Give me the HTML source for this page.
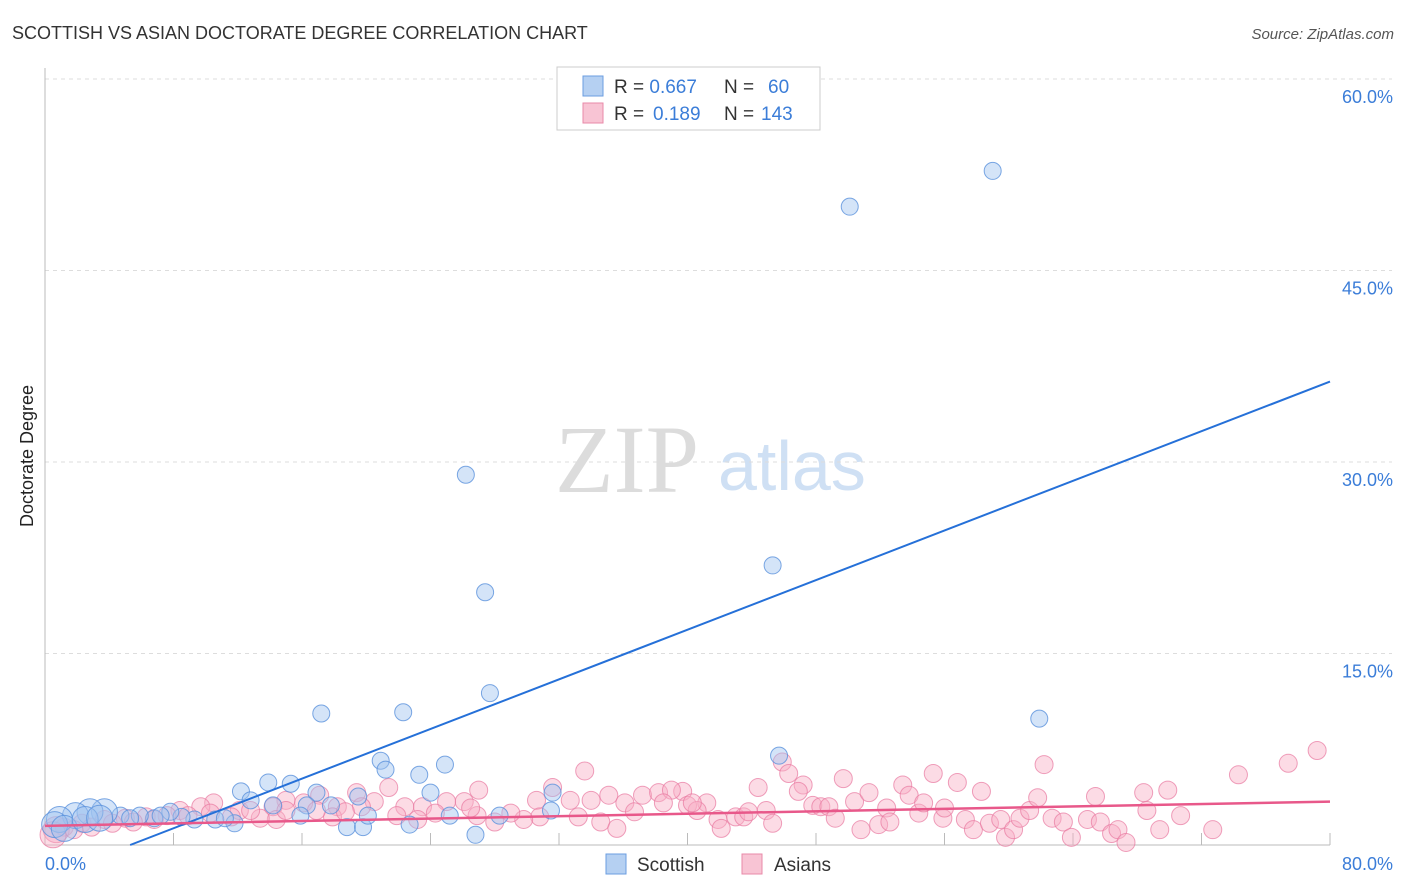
<!DOCTYPE html>
<html><head><meta charset="utf-8"><style>
body{margin:0;background:#fff;font-family:"Liberation Sans",sans-serif;}
#c{position:relative;width:1406px;height:892px;overflow:hidden;}
</style></head><body>
<div id="c">
<svg id="s" width="1406" height="892" xmlns="http://www.w3.org/2000/svg">
<text x="12" y="39" font-size="18" fill="#333">SCOTTISH VS ASIAN DOCTORATE DEGREE CORRELATION CHART</text>
<text x="1394" y="39" font-size="15" fill="#555" font-style="italic" text-anchor="end">Source: ZipAtlas.com</text>
<text x="555" y="492" font-size="96" fill="#dcdcdc" font-family="Liberation Serif,serif">ZIP</text>
<text x="718" y="490" font-size="70" fill="#cfe0f4">atlas</text>
<g id="grid"></g>
<line x1="45" y1="68" x2="45" y2="845" stroke="#bbb"/>
<line x1="45" y1="845" x2="1330" y2="845" stroke="#bbb"/>
<g id="pts"></g>
<g id="lines"></g>
<text transform="translate(33,456) rotate(-90)" font-size="18" fill="#222" text-anchor="middle">Doctorate Degree</text>
<text x="45" y="870" font-size="18" fill="#3b7dd8">0.0%</text>
<text x="1393" y="870" font-size="18" fill="#3b7dd8" text-anchor="end">80.0%</text>
<g>
<rect x="557" y="67" width="263" height="63" fill="#fff" stroke="#ccc"/>
<rect x="583" y="76" width="20" height="20" fill="#b5d0f2" stroke="#6b9ee0"/>
<rect x="583" y="103" width="20" height="20" fill="#f8c4d4" stroke="#e88aa8"/>
<text x="614" y="93" font-size="19" fill="#333">R = <tspan fill="#3b7dd8">0.667</tspan><tspan x="724">N =</tspan><tspan x="768" fill="#3b7dd8">60</tspan></text>
<text x="614" y="120" font-size="19" fill="#333">R = <tspan x="653" fill="#3b7dd8">0.189</tspan><tspan x="724">N =</tspan><tspan x="761" fill="#3b7dd8">143</tspan></text>
</g>
<g><rect x="606" y="854" width="20" height="20" fill="#b5d0f2" stroke="#6b9ee0"/><text x="637" y="871" font-size="19" fill="#333">Scottish</text></g>
<g><rect x="742" y="854" width="20" height="20" fill="#f8c4d4" stroke="#e88aa8"/><text x="774" y="871" font-size="19" fill="#333">Asians</text></g>
</svg>
</div>
<script>
const yTicks=[15,30,45,60];
const yTickLabels=["15.0%","30.0%","45.0%","60.0%"];
const xTicks=[8,16,24,32,40,48,56,64,72,80];
const scottishX=[59.0,50.1,26.2,27.4,45.3,27.7,17.2,22.3,61.9,45.7,20.9,21.2,24.9,23.3,12.2,13.9,15.3,16.9,19.5,24.0,12.8,14.2,16.3,17.8,15.9,18.8,19.8,22.7,26.8,28.3,31.5,31.6,20.1,11.8,10.6,9.3,8.5,7.8,6.8,5.9,4.7,3.7,2.8,1.9,0.9,0.6,1.2,2.5,3.4,5.3,11.2,25.2,7.2];
const scottishY=[52.8,50.0,29.0,19.8,21.9,11.9,10.3,10.4,9.9,7.0,6.6,5.9,6.3,5.5,4.2,4.9,4.8,4.1,3.8,4.1,3.5,3.1,3.1,3.1,2.3,1.4,1.4,1.6,0.8,2.3,2.7,4.1,2.3,1.7,2.0,2.0,2.2,2.6,2.1,2.3,2.3,2.6,2.6,2.3,2.0,1.6,1.3,2.0,2.1,2.1,2.1,2.3,2.3];
const scottishBig=[0,0,0,0,0,0,0,0,0,0,0,0,0,0,0,0,0,0,0,0,0,0,0,0,0,0,0,0,0,0,0,0,0,0,0,0,0,0,0,0,0,1,1,1,1,1,1,1,1,0,0,0,0];
const asianX=[39.7,40.0,41.2,40.6,41.9,42.1,43.0,43.5,43.8,44.4,44.9,45.3,45.9,46.3,47.2,46.9,47.8,48.3,48.8,49.2,49.7,50.4,50.8,51.3,51.9,52.4,52.6,53.4,53.8,54.4,54.7,55.3,55.9,56.0,56.8,57.3,57.8,58.3,58.8,59.5,59.8,60.3,60.7,61.3,61.8,62.2,62.7,63.4,63.9,64.9,65.4,65.7,66.4,66.8,67.3,68.4,68.6,69.4,69.9,70.7,72.7,74.3,77.4,79.2,
33.6,31.6,27.0,21.4,19.4,17.1,35.1,34.0,32.7,30.6,26.1,25.0,23.5,22.4,20.5,18.2,16.1,15.0,14.2,12.1,10.5,9.7,8.4,36.1,37.2,38.2,39.0,40.3,38.5,36.7,34.6,35.6,33.2,30.8,29.8,28.0,29.0,26.9,26.5,24.3,21.9,23.2,19.7,17.9,16.9,14.4,13.4,11.6,8.9,7.6,6.3,5.0,3.7,2.3,1.2,0.7,0.5,1.8,2.9,4.2,5.5,6.8,10.3,12.8,15.0,18.7];
const asianY=[4.2,3.1,3.3,2.7,2.0,1.3,2.2,2.2,2.6,4.5,2.7,1.7,6.5,5.6,4.7,4.2,3.1,3.0,3.0,2.1,5.2,3.4,1.2,4.1,1.6,2.9,1.8,4.7,3.9,2.5,3.3,5.6,2.1,2.9,4.9,2.0,1.2,4.2,1.7,2.0,0.6,1.2,2.1,2.7,3.7,6.3,2.1,1.8,0.6,2.0,3.8,1.8,0.9,1.2,0.2,4.1,2.7,1.2,4.3,2.3,1.2,5.5,6.4,7.4,
5.8,4.5,4.3,4.5,4.1,3.9,3.9,3.5,3.5,3.5,3.4,3.4,3.0,3.0,3.4,3.0,3.3,3.5,3.0,2.7,3.3,3.0,2.7,3.3,3.9,4.1,4.3,3.3,3.3,2.6,1.8,1.3,2.2,2.2,2.0,1.8,2.5,2.3,2.9,2.5,2.3,2.0,3.0,2.2,2.7,2.0,2.1,2.2,2.3,2.3,2.2,2.1,2.0,1.7,1.4,1.2,0.8,1.2,1.4,1.7,1.8,2.0,2.5,2.7,2.7,2.6];
const scottishTrend=[5.3,0,80,36.3];
const asianTrend=[0,1.5,80,3.4];
const NS="http://www.w3.org/2000/svg";
function xs(v){return 45+v*1285/80;}
function ys(v){return 845-v*766/60;}
const grid=document.getElementById('grid');
yTicks.forEach((t,i)=>{
 const l=document.createElementNS(NS,'line');
 l.setAttribute('x1',45);l.setAttribute('x2',1392);l.setAttribute('y1',ys(t)-manOff());l.setAttribute('y2',ys(t)-manOff());
 l.setAttribute('stroke','#ddd');l.setAttribute('stroke-dasharray','4,4');
 
 
 grid.appendChild(l);
 const tx=document.createElementNS(NS,'text');
 tx.setAttribute('x',1393);tx.setAttribute('y',ys(t)+24-manOff());tx.setAttribute('text-anchor','end');
 tx.setAttribute('font-size','18');tx.setAttribute('fill','#3b7dd8');tx.textContent=yTickLabels[i];
 
 
 grid.appendChild(tx);
});
function manOff(){return 0;}
xTicks.forEach(t=>{
 const l=document.createElementNS(NS,'line');
 l.setAttribute('x1',xs(t));l.setAttribute('x2',xs(t));l.setAttribute('y1',833);l.setAttribute('y2',845);
 l.setAttribute('stroke','#bbb');
 
 
 grid.appendChild(l);
});
const pts=document.getElementById('pts');
asianX.forEach((x,i)=>{
 const c=document.createElementNS(NS,'circle');
 const big=x<1.2&&asianY[i]<1.5;
 c.setAttribute('cx',xs(x));c.setAttribute('cy',ys(asianY[i]));c.setAttribute('r',big?13:9);
 c.setAttribute('fill','rgba(248,175,198,0.45)');c.setAttribute('stroke','rgba(232,120,160,0.7)');
 
 
 pts.appendChild(c);
});
scottishX.forEach((x,i)=>{
 const c=document.createElementNS(NS,'circle');
 c.setAttribute('cx',xs(x));c.setAttribute('cy',ys(scottishY[i]));c.setAttribute('r',scottishBig[i]?13:8.5);
 c.setAttribute('fill','rgba(160,196,240,0.45)');c.setAttribute('stroke','rgba(90,145,220,0.8)');
 
 
 pts.appendChild(c);
});
const lines=document.getElementById('lines');
[[scottishTrend,'#2570d8',2,'scottish-trend-line'],[asianTrend,'#e8588a',2.5,'asian-trend-line']].forEach(d=>{
 const t=d[0];const l=document.createElementNS(NS,'line');
 l.setAttribute('x1',xs(t[0]));l.setAttribute('y1',ys(t[1]));l.setAttribute('x2',xs(t[2]));l.setAttribute('y2',ys(t[3]));
 l.setAttribute('stroke',d[1]);l.setAttribute('stroke-width',d[2]);
 
 
 lines.appendChild(l);
});
</script>
</body></html>
